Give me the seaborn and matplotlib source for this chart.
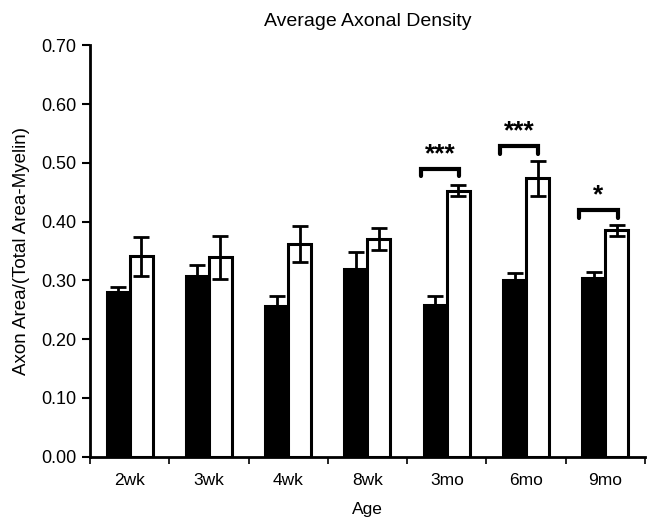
import matplotlib
matplotlib.use("Agg")
import matplotlib.pyplot as plt
import seaborn as sns
import pandas as pd

ages = ['2wk', '3wk', '4wk', '8wk', '3mo', '6mo', '9mo']
black_mean = [0.281, 0.307, 0.257, 0.319, 0.258, 0.300, 0.304]
black_err = [0.008, 0.019, 0.016, 0.029, 0.015, 0.012, 0.010]
white_mean = [0.341, 0.339, 0.362, 0.371, 0.453, 0.474, 0.385]
white_err = [0.033, 0.037, 0.031, 0.019, 0.010, 0.030, 0.009]
# significance marks: (age index, bracket height, label)
sig_marks = [(4, 0.489, '***'), (5, 0.528, '***'), (6, 0.419, '*')]

df = pd.DataFrame({
    'Age': ages * 2,
    'density': black_mean + white_mean,
    'err': black_err + white_err,
    'group': ['black'] * len(ages) + ['white'] * len(ages),
})

sns.set_style('ticks', {'text.color': 'black', 'axes.labelcolor': 'black',
                        'xtick.color': 'black', 'ytick.color': 'black',
                        'axes.edgecolor': 'black'})
plt.rcParams['font.family'] = ['Liberation Sans', 'DejaVu Sans']

fig = plt.figure(figsize=(6.47, 5.17), dpi=100)
ax = fig.add_axes([0.139, 0.117, 0.858, 0.795])

sns.barplot(data=df, x='Age', y='density', hue='group', order=ages,
            palette={'black': 'black', 'white': 'white'}, edgecolor='black',
            linewidth=2.2, width=0.58, errorbar=None, legend=False, ax=ax)

# error bars
errs = {'black': black_err, 'white': white_err}
for cont, grp in zip(ax.containers, ['black', 'white']):
    xs = [b.get_x() + b.get_width() / 2 for b in cont]
    hs = [b.get_height() for b in cont]
    ax.errorbar(xs, hs, yerr=errs[grp], fmt='none', ecolor='black',
                elinewidth=2, capsize=6, capthick=2, zorder=3)

# significance brackets
for i, yb, lab in sig_marks:
    x0, x1 = i - 0.33, i + 0.155
    ax.plot([x0, x0, x1, x1], [yb - 0.012, yb, yb, yb - 0.012],
            color='black', lw=3, solid_joinstyle='miter', zorder=4)
    ax.text((x0 + x1) / 2, yb + 0.006, lab, ha='center', va='bottom',
            fontsize=19, fontweight='bold')

ax.set_ylim(0, 0.70)
ax.set_xlim(-0.5, 6.5)
ax.set_yticks([i / 10 for i in range(8)])
ax.set_yticklabels([f'{i / 10:.2f}' for i in range(8)])
ax.set_xticks(range(len(ages)))
ax.set_xticklabels(ages)
ax.set_xticks([i - 0.5 for i in range(len(ages) + 1)], minor=True)
ax.tick_params(axis='x', which='major', length=0, pad=12, labelsize=12.5)
ax.tick_params(axis='x', which='minor', length=5, width=1.2)
ax.tick_params(axis='y', length=6, width=1.5, labelsize=13)

ax.spines['top'].set_visible(False)
ax.spines['right'].set_visible(False)
ax.spines['left'].set_linewidth(2)
ax.spines['bottom'].set_linewidth(2)

ax.set_xlabel('Age', fontsize=12.5, labelpad=10)
ax.set_ylabel('Axon Area/(Total Area-Myelin)', fontsize=13.5, labelpad=8)
ax.set_title('Average Axonal Density', fontsize=14, pad=14)

fig.savefig('out.png', dpi=100)
